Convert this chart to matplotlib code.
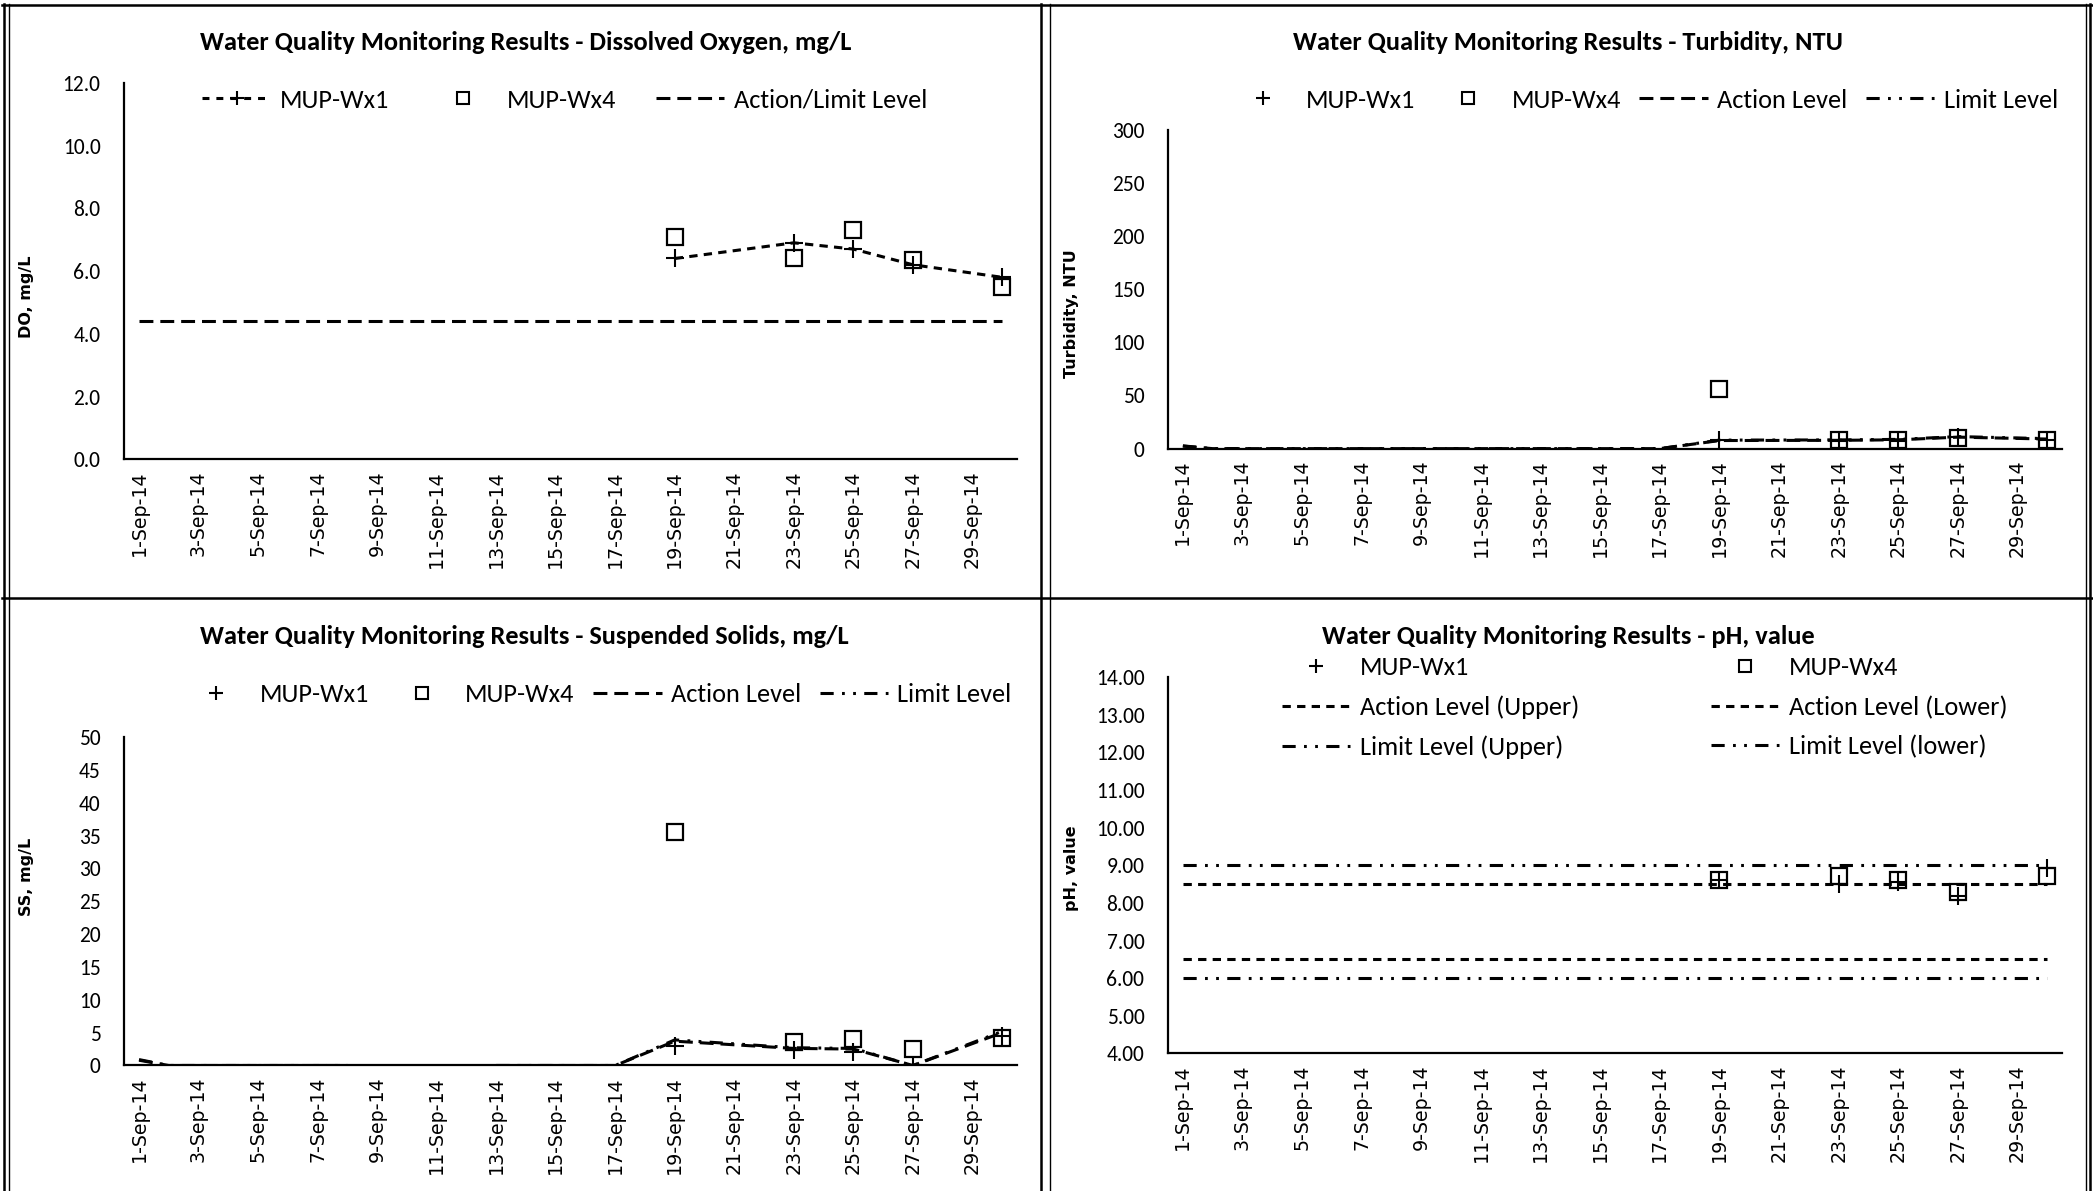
import numpy as np
import matplotlib
matplotlib.use("Agg")
import matplotlib.pyplot as plt
from matplotlib.lines import Line2D
from matplotlib import font_manager

_avail = {f.name for f in font_manager.fontManager.ttflist}


def pick(*names):
    for n in names:
        if n in _avail:
            return n
    return "DejaVu Sans"


CAL = pick("Carlito", "Lato", "Liberation Sans Narrow", "Open Sans")
VER = pick("DejaVu Sans")

plt.rcParams["lines.scale_dashes"] = False
plt.rcParams["font.family"] = [CAL, "DejaVu Sans"]

NAN = float("nan")

# ---------------- data ----------------
days = list(range(1, 31))
tick_days = list(range(1, 30, 2))
tick_labels = [f"{d}-Sep-14" for d in tick_days]

monitor_days = [19, 23, 25, 27, 30]

# Dissolved oxygen, mg/L
do_wx1 = [6.4, 6.9, 6.7, 6.2, 5.8]
do_wx4 = [7.1, 6.4, 7.3, 6.35, 5.5]
do_level = 4.4

# Turbidity, NTU  (None = no value, line spans over it)
turb_wx1 = [7.8, 7.5, 7.3, 10.8, 8.5]
turb_wx4 = [56.5, 7.8, 7.8, 10.3, 8.5]
turb_action = [2.4] + [0] * 16 + [None, 7.6, None, None, None, 7.8, None, 8.3,
                                  None, 10.8, None, None, 9.0]
turb_limit = [2.6] + [0] * 16 + [None, 8.0, None, None, None, 8.2, None, 8.7,
                                 None, 11.3, None, None, 9.4]

# Suspended solids, mg/L (nan = gap in line)
ss_wx1 = [3.0, 2.3, 2.1, 0.0, 4.5]
ss_wx4 = [35.5, 3.65, 4.1, 2.5, 4.2]
ss_action = [0.8] + [0] * 7 + [NAN] * 4 + [0] * 5 + [None, 3.7, None, None, None, 2.6,
                                                     None, 2.5, None, 0.0, None, None, 5.0]
ss_limit = [0.9] + [0] * 7 + [NAN] * 4 + [0] * 5 + [None, 3.9, None, None, None, 2.7,
                                                    None, 2.6, None, 0.0, None, None, 5.2]

# pH
ph_wx1 = [8.6, 8.5, 8.55, 8.17, 8.93]
ph_wx4 = [8.6, 8.71, 8.62, 8.30, 8.72]
ph_action_upper = 8.5
ph_action_lower = 6.5
ph_limit_upper = 9.0
ph_limit_lower = 6.0


def xy(vals):
    xs, ys = [], []
    for d, v in zip(days, vals):
        if v is None:
            continue
        xs.append(d)
        ys.append(v)
    return xs, ys


# ---------------- styles ----------------
LW = 2.2
SHORT_DASH = (0, (6, 4.5))
LONG_DASH = (0, (10, 5))
DASH_DOT_DOT = (0, (9.5, 6, 2, 6, 2, 6))
PLUS = dict(marker="+", ms=13, mew=1.5, color="black")
SQ = dict(marker="s", ms=11, mew=1.6, mfc="none", mec="black")

fig = plt.figure(figsize=(20.93, 11.91), dpi=100, facecolor="white")

W, H = 1568.0, 892.0


def box(l, r, t, b):
    return [l / W, 1 - b / H, (r - l) / W, (b - t) / H]


ax_do = fig.add_axes(box(93, 762, 62, 344))
ax_tb = fig.add_axes(box(875, 1545, 97, 336))
ax_ss = fig.add_axes(box(93, 762, 552, 798))
ax_ph = fig.add_axes(box(875, 1545, 507, 789))


def style(ax, ylim, yticks, fmt):
    for s in ("top", "right"):
        ax.spines[s].set_visible(False)
    for s in ("left", "bottom"):
        ax.spines[s].set_linewidth(1.6)
        ax.spines[s].set_color("black")
    ax.set_xlim(0.5, 30.5)
    ax.set_ylim(*ylim)
    ax.set_yticks(yticks)
    ax.set_yticklabels([fmt.format(v) for v in yticks], fontfamily=CAL, fontsize=15.5)
    ax.set_xticks(tick_days)
    ax.set_xticklabels(tick_labels, rotation=90, fontfamily=VER, fontsize=13.7)
    ax.tick_params(axis="both", length=0)
    ax.tick_params(axis="y", pad=17)
    ax.tick_params(axis="x", pad=8)
    ax.set_facecolor("white")


style(ax_do, (0, 12), np.arange(0, 12.1, 2), "{:.1f}")
style(ax_tb, (0, 300), np.arange(0, 301, 50), "{:.0f}")
style(ax_ss, (0, 50), np.arange(0, 51, 5), "{:.0f}")
style(ax_ph, (4, 14), np.arange(4, 14.1, 1), "{:.2f}")

# ---- DO ----
ax_do.plot(days, [do_level] * len(days), color="black", lw=LW, ls=LONG_DASH)
ax_do.plot(monitor_days, do_wx1, lw=LW, ls=SHORT_DASH, **PLUS)
ax_do.plot(monitor_days, do_wx4, ls="none", **SQ)

# ---- Turbidity ----
ax_tb.plot(*xy(turb_action), color="black", lw=LW, ls=LONG_DASH)
ax_tb.plot(*xy(turb_limit), color="black", lw=LW, ls=DASH_DOT_DOT)
ax_tb.plot(monitor_days, turb_wx1, ls="none", **PLUS)
ax_tb.plot(monitor_days, turb_wx4, ls="none", **SQ)

# ---- SS ----
ax_ss.plot(*xy(ss_action), color="black", lw=LW, ls=LONG_DASH)
ax_ss.plot(*xy(ss_limit), color="black", lw=LW, ls=DASH_DOT_DOT)
ax_ss.plot(monitor_days, ss_wx1, ls="none", **PLUS)
ax_ss.plot(monitor_days, ss_wx4, ls="none", **SQ)

# ---- pH ----
ax_ph.plot(days, [ph_limit_upper] * len(days), color="black", lw=LW, ls=DASH_DOT_DOT)
ax_ph.plot(days, [ph_action_upper] * len(days), color="black", lw=LW, ls=SHORT_DASH)
ax_ph.plot(days, [ph_action_lower] * len(days), color="black", lw=LW, ls=SHORT_DASH)
ax_ph.plot(days, [ph_limit_lower] * len(days), color="black", lw=LW, ls=DASH_DOT_DOT)
ax_ph.plot(monitor_days, ph_wx1, ls="none", **PLUS)
ax_ph.plot(monitor_days, ph_wx4, ls="none", **SQ)

# ---------------- titles & labels ----------------
TITLE_KW = dict(fontfamily=CAL, fontsize=19, fontweight="bold", ha="center", va="center")
fig.text(394 / W, 1 - 32 / H, "Water Quality Monitoring Results - Dissolved Oxygen, mg/L", **TITLE_KW)
fig.text(1175 / W, 1 - 32 / H, "Water Quality Monitoring Results - Turbidity, NTU", **TITLE_KW)
fig.text(393 / W, 1 - 477 / H, "Water Quality Monitoring Results - Suspended Solids, mg/L", **TITLE_KW)
fig.text(1175 / W, 1 - 477 / H, "Water Quality Monitoring Results - pH, value", **TITLE_KW)

YL_KW = dict(fontfamily=VER, fontsize=11.5, fontweight="bold", rotation=90, ha="center", va="center")
fig.text(20 / W, 1 - 222 / H, "DO, mg/L", **YL_KW)
fig.text(803 / W, 1 - 235 / H, "Turbidity, NTU", **YL_KW)
fig.text(20 / W, 1 - 657 / H, "SS, mg/L", **YL_KW)
fig.text(803 / W, 1 - 650 / H, "pH, value", **YL_KW)

# ---------------- legends ----------------
LEG_KW = dict(loc="center", frameon=False, prop=dict(family=CAL, size=19),
              handlelength=2.6, handletextpad=0.35, borderaxespad=0, borderpad=0)

h_wx1_line = Line2D([], [], color="black", lw=LW, ls=(0, (5, 5)), marker="+", ms=10, mew=1.5)
h_wx1 = Line2D([], [], ls="none", color="black", marker="+", ms=10, mew=1.5)
h_wx4 = Line2D([], [], ls="none", marker="s", ms=8, mew=1.5, mfc="none", mec="black")
h_long = Line2D([], [], color="black", lw=LW, ls=LONG_DASH)
h_ddot = Line2D([], [], color="black", lw=LW, ls=DASH_DOT_DOT)
h_short = Line2D([], [], color="black", lw=LW, ls=SHORT_DASH)

fig.legend([h_wx1_line, h_wx4, h_long], ["MUP-Wx1", "MUP-Wx4", "Action/Limit Level"],
           bbox_to_anchor=(423 / W, 1 - 75 / H), ncol=3, columnspacing=1.5, **LEG_KW)
fig.legend([h_wx1, h_wx4, h_long, h_ddot], ["MUP-Wx1", "MUP-Wx4", "Action Level", "Limit Level"],
           bbox_to_anchor=(1231 / W, 1 - 75 / H), ncol=4, columnspacing=0.7, **LEG_KW)
fig.legend([h_wx1, h_wx4, h_long, h_ddot], ["MUP-Wx1", "MUP-Wx4", "Action Level", "Limit Level"],
           bbox_to_anchor=(447 / W, 1 - 520 / H), ncol=4, columnspacing=0.7, **LEG_KW)
fig.legend([h_wx1, h_short, h_ddot, h_wx4, h_short, h_ddot],
           ["MUP-Wx1", "Action Level (Upper)", "Limit Level (Upper)",
            "MUP-Wx4", "Action Level (Lower)", "Limit Level (lower)"],
           bbox_to_anchor=(1232 / W, 1 - 530 / H), ncol=2, columnspacing=5.0,
           labelspacing=0.62, **LEG_KW)

# ---------------- table borders ----------------
RW, RH = 2093.0, 1191.0


def hline(y, x0, x1, lw):
    fig.add_artist(Line2D([x0 / RW, x1 / RW], [1 - y / RH, 1 - y / RH],
                          transform=fig.transFigure, color="black", lw=lw))


def vline(x, y0, y1, lw):
    fig.add_artist(Line2D([x / RW, x / RW], [1 - y0 / RH, 1 - y1 / RH],
                          transform=fig.transFigure, color="black", lw=lw))


hline(5, 2, 2092, 1.8)
hline(598, 2, 2092, 1.8)
for x, lw in ((4, 1.8), (9, 1.0), (1041, 1.8), (1050, 1.0), (2086, 1.0), (2090, 1.8)):
    vline(x, 4, 1191, lw)

fig.savefig("out.png", dpi=100, facecolor="white")
